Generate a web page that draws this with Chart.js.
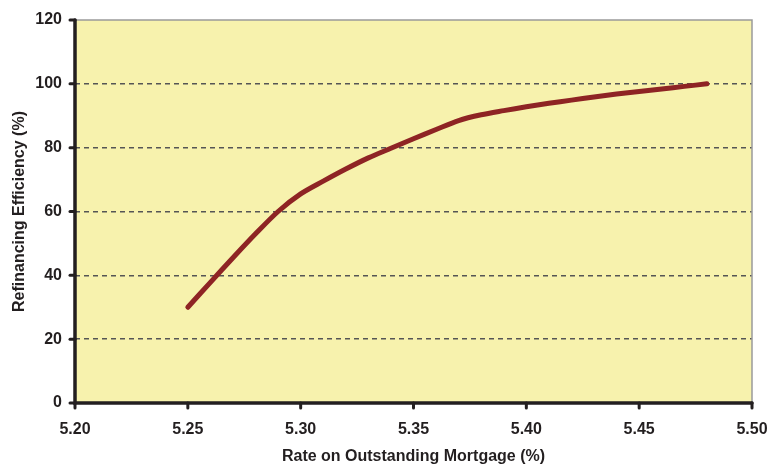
<!DOCTYPE html>
<html>
<head>
<meta charset="utf-8" />
<title>Refinancing efficiency</title>
<script src="https://cdn.jsdelivr.net/npm/chart.js@4.4.0/dist/chart.umd.min.js"></script>
<style>
  body { margin: 0; padding: 0; background: #fff; }
  #wrap { width: 769px; height: 464px; }
</style>
</head>
<body>
<div id="wrap"><canvas id="chart"></canvas></div>
<script>
// values
var rates = [5.25, 5.26, 5.27, 5.28, 5.29, 5.30, 5.31, 5.32, 5.33, 5.34, 5.35, 5.36,
             5.37, 5.38, 5.39, 5.40, 5.41, 5.42, 5.43, 5.44, 5.45, 5.46, 5.47, 5.48];
var efficiency = [30, 37.8, 45.5, 53, 60, 65.5, 69.5, 73.3, 76.8, 79.8, 82.8, 85.7,
                  88.5, 90.3, 91.6, 92.8, 93.9, 94.9, 95.9, 96.8, 97.6, 98.4, 99.2, 100];
var xTicks = [5.20, 5.25, 5.30, 5.35, 5.40, 5.45, 5.50];
var yTicks = [0, 20, 40, 60, 80, 100, 120];

var ink = '#231f20';

var points = rates.map(function (r, i) { return { x: r, y: efficiency[i] }; });

// yellow plot area, grey top/right frame, black axes with round tick stubs
var frame = {
  id: 'frame',
  beforeDraw: function (chart) {
    var a = chart.chartArea, c = chart.ctx;
    c.save();
    c.fillStyle = '#f7f2ad';
    c.fillRect(a.left, a.top, a.right - a.left, a.bottom - a.top);
    c.restore();
  },
  afterDraw: function (chart) {
    var a = chart.chartArea, c = chart.ctx;
    var xs = chart.scales.x, ys = chart.scales.y;
    c.save();
    c.strokeStyle = '#9a9a9a';
    c.lineWidth = 1.5;
    c.beginPath();
    c.moveTo(a.left, a.top);
    c.lineTo(a.right, a.top);
    c.lineTo(a.right, a.bottom);
    c.stroke();

    c.strokeStyle = ink;
    c.lineCap = 'round';
    c.lineWidth = 3.5;
    c.beginPath();
    c.moveTo(a.left, a.top);
    c.lineTo(a.left, a.bottom);
    c.lineTo(a.right, a.bottom);
    c.stroke();

    c.lineWidth = 3;
    yTicks.forEach(function (v) {
      var p = ys.getPixelForValue(v);
      c.beginPath();
      c.moveTo(a.left - 5, p);
      c.lineTo(a.left, p);
      c.stroke();
    });
    xTicks.forEach(function (v) {
      var p = xs.getPixelForValue(v);
      c.beginPath();
      c.moveTo(p, a.bottom);
      c.lineTo(p, a.bottom + 5);
      c.stroke();
    });
    c.restore();
  }
};

var font = { family: 'Arial, "Liberation Sans", sans-serif', size: 16, weight: 'bold' };
var titleFont = { family: 'Arial, "Liberation Sans", sans-serif', size: 16, weight: 'bold', lineHeight: 1 };

new Chart(document.getElementById('chart'), {
  type: 'line',
  data: {
    datasets: [{
      data: points,
      borderColor: '#8e2424',
      borderWidth: 5,
      borderCapStyle: 'round',
      borderJoinStyle: 'round',
      pointRadius: 0,
      tension: 0.3,
      fill: false
    }]
  },
  options: {
    responsive: true,
    maintainAspectRatio: false,
    animation: false,
    layout: { padding: { top: 20, right: 17, left: 0, bottom: 0 } },
    plugins: { legend: { display: false }, tooltip: { enabled: false } },
    scales: {
      x: {
        type: 'linear',
        min: 5.2,
        max: 5.5,
        afterBuildTicks: function (s) { s.ticks = xTicks.map(function (v) { return { value: v }; }); },
        afterFit: function (s) { s.height = 61; s.paddingLeft = 0; s.paddingRight = 0; },
        grid: { display: false, drawTicks: false },
        border: { display: false },
        ticks: {
          color: ink, font: font, padding: 17, maxRotation: 0,
          callback: function (v) { return Number(v).toFixed(2); }
        },
        title: {
          display: true, text: 'Rate on Outstanding Mortgage (%)',
          color: ink, font: titleFont, padding: { top: 0, bottom: -1 }
        }
      },
      y: {
        min: 0,
        max: 120,
        afterBuildTicks: function (s) { s.ticks = yTicks.map(function (v) { return { value: v }; }); },
        afterFit: function (s) { s.width = 75; s.paddingTop = 0; s.paddingBottom = 0; },
        grid: {
          drawTicks: false,
          lineWidth: 1.5,
          color: function (ctx) {
            var v = ctx.tick && ctx.tick.value;
            return (v === 0 || v === 120) ? 'rgba(0,0,0,0)' : '#555555';
          }
        },
        border: { display: false, dash: [5, 4] },
        ticks: { color: ink, font: font, padding: 13 },
        title: {
          display: true, text: 'Refinancing Efficiency (%)',
          color: ink, font: titleFont, padding: { top: 12, bottom: 0 }
        }
      }
    }
  },
  plugins: [frame]
});
</script>
</body>
</html>
